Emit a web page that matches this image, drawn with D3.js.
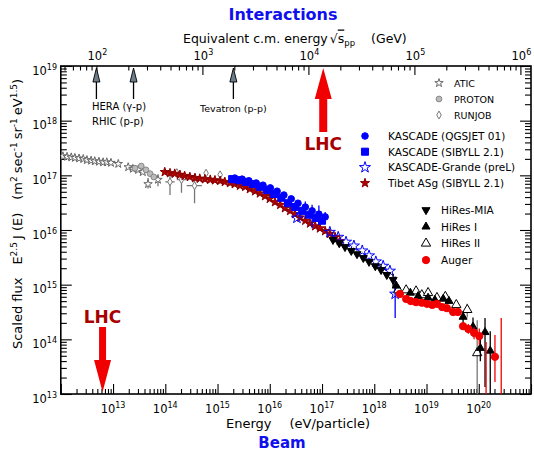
<!DOCTYPE html>
<html>
<head>
<meta charset="utf-8">
<script src="https://cdn.jsdelivr.net/npm/d3@7"></script>
<style>
  body { margin: 0; background: #fff; }
  svg { font-family: "DejaVu Sans", sans-serif; }
</style>
</head>
<body>
<svg id="chart" width="534" height="451"></svg>
<script>
// values are [log10 E (eV), log10 E^2.5 J(E), err lo, err hi, E lo, E hi] - errors optional
const atic = [[12.04,17.35],[12.12,17.34],[12.20,17.33],[12.27,17.32],[12.35,17.31],[12.43,17.30],
  [12.50,17.28],[12.58,17.27],[12.65,17.26],[12.73,17.25],[12.81,17.24],[12.88,17.24],[12.96,17.23],
  [13.10,17.21],[13.29,17.15],[13.38,17.12],[13.48,17.10],[13.57,17.06],[13.67,16.84,16.76,16.95],
  [13.86,16.92,16.80,17.02]]
const proton = [[13.42,17.13],[13.54,17.17],[13.63,17.10],[13.71,17.03],[13.78,16.97]]
const runjob = [[14.09,16.88,16.64,17.04,14.00,14.18],[14.22,17.05],[14.31,16.92,16.68,17.01,14.22,14.40],
  [14.56,16.81,16.49,17.04,14.41,14.70],[14.78,17.04],[15.05,17.01]]
const tibet = [[13.99,17.06],[14.09,17.04],[14.18,17.03],[14.28,17.01],[14.37,16.99],[14.47,16.97],
  [14.57,16.95],[14.66,16.94],[14.76,16.93],[14.86,16.92],[14.95,16.91],[15.05,16.90],[15.14,16.88],
  [15.24,16.86],[15.33,16.84],[15.43,16.81],[15.53,16.79],[15.62,16.75],[15.72,16.71],[15.81,16.67],
  [15.91,16.62],[16.00,16.57],[16.10,16.51],[16.20,16.46],[16.29,16.40],[16.39,16.35],[16.48,16.29],
  [16.58,16.23],[16.68,16.17],[16.77,16.12],[16.87,16.07],[16.96,16.03],[17.06,15.98],[17.15,15.93],
  [17.25,15.87],[17.34,15.80]]
const kascadeSib = [[15.28,16.93],[15.41,16.91],[15.55,16.88],[15.68,16.84],[15.81,16.79],[15.95,16.73],
  [16.08,16.66],[16.22,16.59],[16.35,16.49],[16.48,16.42],[16.62,16.35],[16.75,16.28],[16.89,16.22],
  [17.00,16.17]]
const kascadeQgs = [[15.33,16.95],[15.47,16.93],[15.60,16.90],[15.74,16.86],[15.87,16.82],[16.01,16.77],
  [16.14,16.71],[16.27,16.64],[16.41,16.57],[16.54,16.49],[16.68,16.42,16.30,16.52],[16.81,16.35,16.03,16.46],
  [16.94,16.29,16.10,16.45],[17.06,16.24,16.12,16.33]]
const grande = [[16.52,16.22],[17.15,15.96],[17.31,15.87],[17.46,15.78],[17.61,15.71],[17.77,15.62],
  [17.90,15.53],[18.03,15.42],[18.17,15.34],[18.30,15.25],[18.40,14.83,14.39,15.15]]
const hiresMia = [[17.21,15.82],[17.33,15.76],[17.44,15.69],[17.56,15.62],[17.67,15.56],[17.79,15.49],
  [17.90,15.42],[18.02,15.34],[18.13,15.27,15.20,15.38],[18.24,15.18],[18.36,15.09,14.95,15.20]]
const hires1 = [[18.42,14.98],[18.69,14.85],[18.84,14.79],[19.03,14.76],[19.16,14.72],[19.32,14.74],
  [19.43,14.70],[19.70,14.41,14.30,14.52],[19.89,14.23,14.05,14.40],[20.03,13.84,13.60,14.10],
  [20.12,14.13,13.13,14.39],[20.22,13.79,12.90,14.15]]
const hires2 = [[18.46,14.90],[18.61,14.90],[18.80,14.88],[18.91,14.81],[19.03,14.85],[19.20,14.76],
  [19.36,14.78],[19.57,14.63],[19.78,14.54,14.40,14.65],[19.97,13.75,12.90,14.35]]
const auger = [[18.49,14.83],[18.61,14.74],[18.70,14.70],[18.80,14.68],[18.91,14.67],[19.01,14.65],
  [19.11,14.63],[19.20,14.65],[19.30,14.59],[19.39,14.57],[19.51,14.50,14.45,14.55],[19.60,14.50,14.45,14.55],
  [19.70,14.24,14.18,14.30],[19.80,14.19,14.10,14.28],[19.91,14.12,14.00,14.22],[20.01,14.06,13.90,14.20],
  [20.14,12.80,12.50,13.95],[20.31,13.68,13.22,14.08],[20.43,12.80,12.50,14.39]]

// accelerator marks, sqrt(s) in GeV
const accelerators = [["HERA (γ-p)", 100], ["RHIC (p-p)", 224], ["Tevatron (p-p)", 1960]]
const lhcCM = 13800      // GeV
const lhcBeam = 6.3e12   // eV

const svg = d3.select("#chart")
const pL = 60.8, pR = 531, pT = 66, pB = 394

const x = d3.scaleLog().domain([1e12, 1e21]).range([pL, pR])
const y = d3.scaleLog().domain([1e13, 1e19]).range([pB, pT])
const xTop = d3.scaleLog().domain([Math.pow(10, 1.664), Math.pow(10, 6.1)]).range([pL, pR])

const X = d => x(Math.pow(10, d))
const Y = d => y(Math.pow(10, d))

svg.append("defs").append("clipPath").attr("id", "plotclip")
  .append("rect").attr("x", pL).attr("y", pT)
  .attr("width", pR - pL).attr("height", pB - pT)

// ---- ticks --------------------------------------------------------------
function decadeTicks(lo, hi, minor) {
  let out = []
  for (let e = lo; e <= hi; e++) {
    if (minor) { for (let m = 2; m <= 9; m++) out.push(m * Math.pow(10, e)) }
    else out.push(Math.pow(10, e))
  }
  return out
}
const eMajor = decadeTicks(12, 21, false)
const eMinor = decadeTicks(12, 20, true)
const fMajor = decadeTicks(13, 19, false)
const fMinor = decadeTicks(13, 18, true)
const sMajor = decadeTicks(2, 6, false)
const sMinor = decadeTicks(1, 6, true).filter(v => v > 46 && v < 1.25e6)

function tickAxis(axis, tr, vals, size) {
  svg.append("g").attr("transform", tr)
    .call(axis.tickValues(vals).tickSize(size).tickSizeOuter(0).tickFormat(""))
    .call(g => g.select(".domain").remove())
    .selectAll("line").attr("stroke", "#000").attr("stroke-width", 1.1)
}
tickAxis(d3.axisBottom(x), `translate(0,${pB})`, eMajor, -10)
tickAxis(d3.axisBottom(x), `translate(0,${pB})`, eMinor, -5)
tickAxis(d3.axisTop(xTop), `translate(0,${pT})`, sMajor, -9)
tickAxis(d3.axisTop(xTop), `translate(0,${pT})`, sMinor, -4.5)
tickAxis(d3.axisLeft(y), `translate(${pL},0)`, fMajor, -11)
tickAxis(d3.axisLeft(y), `translate(${pL},0)`, fMinor, -6)
tickAxis(d3.axisRight(y), `translate(${pR},0)`, fMajor, -11)
tickAxis(d3.axisRight(y), `translate(${pR},0)`, fMinor, -6)

svg.append("rect").attr("x", pL).attr("y", pT)
  .attr("width", pR - pL).attr("height", pB - pT)
  .attr("fill", "none").attr("stroke", "#000").attr("stroke-width", 1.6)

// power-of-ten labels
function powLabels(vals, px, py, anchor) {
  const t = svg.append("g").selectAll("text").data(vals).join("text")
    .attr("x", px).attr("y", py)
    .attr("text-anchor", anchor)
    .attr("font-size", 11.5)
  t.append("tspan").text("10")
  t.append("tspan").attr("dy", -5).attr("font-size", 8)
    .text(d => Math.round(Math.log10(d)))
}
powLabels(eMajor.filter(v => v > 1e12 && v < 1e21), d => x(d), 412.5, "middle")
powLabels(fMajor, 57, d => y(d) + 8.5, "end")
powLabels(sMajor, d => xTop(d) + 1, 60, "middle")

// ---- titles -------------------------------------------------------------
svg.append("text").attr("x", 283).attr("y", 19.5).attr("text-anchor", "middle")
  .attr("font-size", 16).attr("font-weight", "bold").attr("fill", "#1010ee")
  .text("Interactions")
svg.append("text").attr("x", 282).attr("y", 448).attr("text-anchor", "middle")
  .attr("font-size", 15).attr("font-weight", "bold").attr("fill", "#1010ee")
  .text("Beam")

const tt = svg.append("text").attr("x", 183).attr("y", 42.5).attr("font-size", 12.5)
tt.append("tspan").text("Equivalent c.m. energy")
tt.append("tspan").attr("dx", 2).text("√")
tt.append("tspan").attr("text-decoration", "overline").text("s")
tt.append("tspan").attr("dy", 3).attr("font-size", 8.5).text("pp")
tt.append("tspan").attr("dy", -3).attr("dx", 16).text("(GeV)")

const bt = svg.append("text").attr("x", 226).attr("y", 427.5).attr("font-size", 13)
bt.append("tspan").text("Energy")
bt.append("tspan").attr("dx", 18).text("(eV/particle)")

const yl = svg.append("text").attr("transform", "translate(22,214) rotate(-90)")
  .attr("text-anchor", "middle").attr("font-size", 13)
const ylParts = [["Scaled flux", 0, 0], ["E", 13, 0], ["2.5", 0, -5], ["J (E)", 3, 5],
  ["(m", 13, 0], ["2", 0, -5], ["sec", 3, 5], ["-1", 0, -5], ["sr", 3, 5], ["-1", 0, -5],
  ["eV", 3, 5], ["1.5", 0, -5], [")", 0, 5]]
ylParts.forEach(p => {
  const sup = p[2] < 0
  yl.append("tspan").attr("dx", p[1]).attr("dy", p[2])
    .attr("font-size", sup ? 9 : 13).text(p[0])
})

// ---- accelerator arrows -------------------------------------------------
const acc = svg.append("g")
accelerators.forEach(a => {
  const ax = xTop(a[1])
  acc.append("line").attr("x1", ax).attr("x2", ax).attr("y1", 80).attr("y2", 99)
    .attr("stroke", "#000").attr("stroke-width", 1.3)
  acc.append("path").attr("d", `M${ax},68 L${ax - 3.5},82 L${ax + 3.5},82 Z`)
    .attr("fill", "#6c7c88").attr("stroke", "#000").attr("stroke-width", 0.9)
})
acc.append("text").attr("x", 92).attr("y", 110).attr("font-size", 10).text(accelerators[0][0])
acc.append("text").attr("x", 92).attr("y", 124.5).attr("font-size", 10).text(accelerators[1][0])
acc.append("text").attr("x", xTop(accelerators[2][1])).attr("y", 112)
  .attr("text-anchor", "middle").attr("font-size", 9.5).text(accelerators[2][0])

// LHC arrows
const lx = xTop(lhcCM)
svg.append("path")
  .attr("d", `M${lx - 4},132 L${lx - 4},99 L${lx - 8.5},99 L${lx},68 L${lx + 8.5},99 L${lx + 4},99 L${lx + 4},132 Z`)
  .attr("fill", "#f00000")
svg.append("text").attr("x", lx).attr("y", 150).attr("text-anchor", "middle")
  .attr("font-size", 17).attr("font-weight", "bold").attr("fill", "#a80000").text("LHC")
const bx = x(lhcBeam)
svg.append("path")
  .attr("d", `M${bx - 3.5},327 L${bx - 3.5},360 L${bx - 8.5},360 L${bx},392 L${bx + 8.5},360 L${bx + 3.5},360 L${bx + 3.5},327 Z`)
  .attr("fill", "#f00000")
svg.append("text").attr("x", bx).attr("y", 322.5).attr("text-anchor", "middle")
  .attr("font-size", 17).attr("font-weight", "bold").attr("fill", "#a80000").text("LHC")

// ---- data series --------------------------------------------------------
const styles = {
  atic:   { type: d3.symbolStar, size: 22, fill: "#fff", stroke: "#666", err: "#777" },
  proton: { type: d3.symbolCircle, size: 26, fill: "#bbb", stroke: "#888", err: "#888" },
  runjob: { type: d3.symbolDiamond, size: 18, fill: "#fff", stroke: "#777", err: "#777" },
  tibet:  { type: d3.symbolStar, size: 26, fill: "#b00000", stroke: "#880000", err: "#880000" },
  kasQ:   { type: d3.symbolCircle, size: 34, fill: "#0000ff", stroke: "#0000ff", err: "#0000ff" },
  kasS:   { type: d3.symbolSquare, size: 50, fill: "#0000ff", stroke: "#0000ff", err: "#0000ff" },
  grande: { type: d3.symbolStar, size: 38, fill: "none", stroke: "#0000ff", err: "#0000ff" },
  mia:    { type: d3.symbolTriangle, size: 28, fill: "#000", stroke: "#000", err: "#000", rot: 180 },
  hires1: { type: d3.symbolTriangle, size: 28, fill: "#000", stroke: "#000", err: "#000" },
  hires2: { type: d3.symbolTriangle, size: 38, fill: "#fff", stroke: "#000", err: "#777" },
  auger:  { type: d3.symbolCircle, size: 42, fill: "#f20000", stroke: "#f20000", err: "#f20000" }
}

const plot = svg.append("g").attr("clip-path", "url(#plotclip)")

function drawSeries(data, st) {
  const g = plot.append("g")
  g.selectAll("line.ey").data(data.filter(d => d.length > 3)).join("line")
    .attr("x1", d => X(d[0])).attr("x2", d => X(d[0]))
    .attr("y1", d => Y(d[2])).attr("y2", d => Y(d[3]))
    .attr("stroke", st.err).attr("stroke-width", 1.3)
  g.selectAll("line.ex").data(data.filter(d => d.length > 5)).join("line")
    .attr("x1", d => X(d[4])).attr("x2", d => X(d[5]))
    .attr("y1", d => Y(d[1])).attr("y2", d => Y(d[1]))
    .attr("stroke", st.err).attr("stroke-width", 1.3)
  g.selectAll("path").data(data).join("path")
    .attr("d", d3.symbol().type(st.type).size(st.size))
    .attr("transform", d => `translate(${X(d[0])},${Y(d[1])}) rotate(${st.rot || 0})`)
    .attr("fill", st.fill).attr("stroke", st.stroke).attr("stroke-width", 1)
}
drawSeries(atic, styles.atic)
drawSeries(proton, styles.proton)
drawSeries(runjob, styles.runjob)
drawSeries(tibet, styles.tibet)
drawSeries(kascadeSib, styles.kasS)
drawSeries(kascadeQgs, styles.kasQ)
drawSeries(grande, styles.grande)
drawSeries(hiresMia, styles.mia)
drawSeries(hires2, styles.hires2)
drawSeries(hires1, styles.hires1)
drawSeries(auger, styles.auger)

// ---- legends ------------------------------------------------------------
function legend(items, mx, tx, y0, step, fs) {
  items.forEach((it, i) => {
    const st = styles[it[1]], ly = y0 + i * step
    svg.append("path").attr("d", d3.symbol().type(st.type).size(st.size)())
      .attr("transform", `translate(${mx},${ly}) rotate(${st.rot || 0})`)
      .attr("fill", st.fill).attr("stroke", st.stroke)
    svg.append("text").attr("x", tx).attr("y", ly + 4).attr("font-size", fs).text(it[0])
  })
}
legend([["ATIC", "atic"], ["PROTON", "proton"], ["RUNJOB", "runjob"]], 439, 454, 83, 16, 9.5)
legend([["KASCADE (QGSJET 01)", "kasQ"], ["KASCADE (SIBYLL 2.1)", "kasS"],
        ["KASCADE-Grande (preL)", "grande"], ["Tibet ASg (SIBYLL 2.1)", "tibet"]], 365, 388, 136, 15.7, 10.5)
legend([["HiRes-MIA", "mia"], ["HiRes I", "hires1"], ["HiRes II", "hires2"], ["Auger", "auger"]],
       426, 441, 210, 16.7, 10.5)
</script>
</body>
</html>
